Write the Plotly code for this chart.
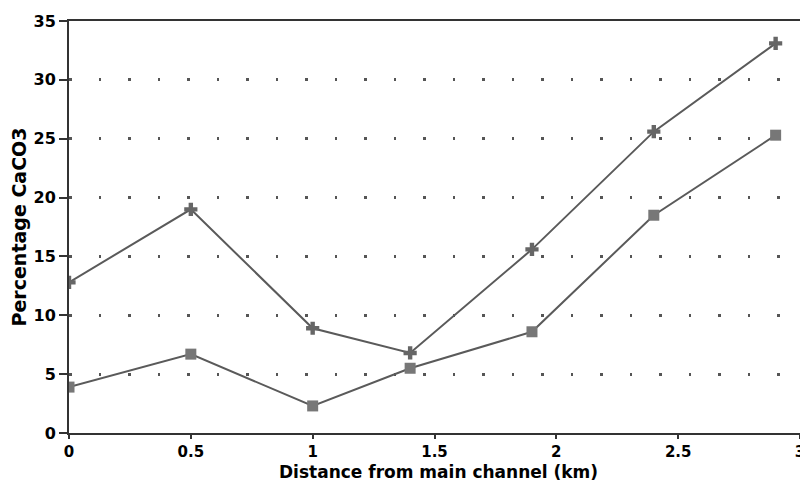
import plotly.graph_objects as go

distance_km = [0, 0.5, 1.0, 1.4, 1.9, 2.4, 2.9]
series_cross = [12.8, 19.0, 8.9, 6.8, 15.6, 25.6, 33.1]
series_square = [3.9, 6.7, 2.3, 5.5, 8.6, 18.5, 25.3]

x_ticks = [0, 0.5, 1, 1.5, 2, 2.5, 3]
x_tick_labels = ["0", "0.5", "1", "1.5", "2", "2.5", "3"]
y_ticks = [0, 5, 10, 15, 20, 25, 30, 35]

x_title = "Distance from main channel (km)"
y_title = "Percentage CaCO3"

font_family = "DejaVu Sans, Liberation Sans, sans-serif"
line_col = "#5a5a5a"

fig = go.Figure()
fig.add_trace(go.Scatter(
    x=distance_km, y=series_cross, mode="lines+markers",
    line=dict(color=line_col, width=2),
    marker=dict(symbol="cross", size=11, color="#666666"),
    showlegend=False,
))
fig.add_trace(go.Scatter(
    x=distance_km, y=series_square, mode="lines+markers",
    line=dict(color=line_col, width=2),
    marker=dict(symbol="square", size=11, color="#777777"),
    showlegend=False,
))

# page body has an 8px default margin, so the figure is sized to fit the window
fig.update_layout(
    width=800, height=479,
    margin=dict(l=61, r=3, t=13, b=54),
    paper_bgcolor="white", plot_bgcolor="white",
    font=dict(family=font_family, color="black"),
    xaxis=dict(
        range=[0, 3], tickvals=x_ticks, ticktext=x_tick_labels,
        showgrid=False, zeroline=False,
        showline=True, linecolor="#333333", linewidth=2, mirror=True,
        ticks="outside", ticklen=4, tickwidth=1.5, tickcolor="#333333",
        ticklabeloverflow="allow",
        tickfont=dict(size=15, family=font_family, weight="bold"),
    ),
    yaxis=dict(
        range=[0, 35], tickvals=y_ticks,
        showgrid=True, gridcolor="#555555", gridwidth=2.5, griddash="2.5px,27px",
        zeroline=False,
        showline=True, linecolor="#333333", linewidth=2, mirror=True,
        ticks="outside", ticklen=8, tickwidth=1.5, tickcolor="#333333",
        tickfont=dict(size=16, family=font_family, weight="bold"),
        title=dict(text=y_title, standoff=4,
                   font=dict(size=19, family=font_family, weight="bold")),
    ),
    annotations=[dict(
        text=x_title, xref="paper", yref="paper", x=0.505, y=0,
        xanchor="center", yanchor="middle", yshift=-39, showarrow=False,
        font=dict(size=17, family=font_family, weight="bold"),
    )],
)

fig.write_html("out.html")
